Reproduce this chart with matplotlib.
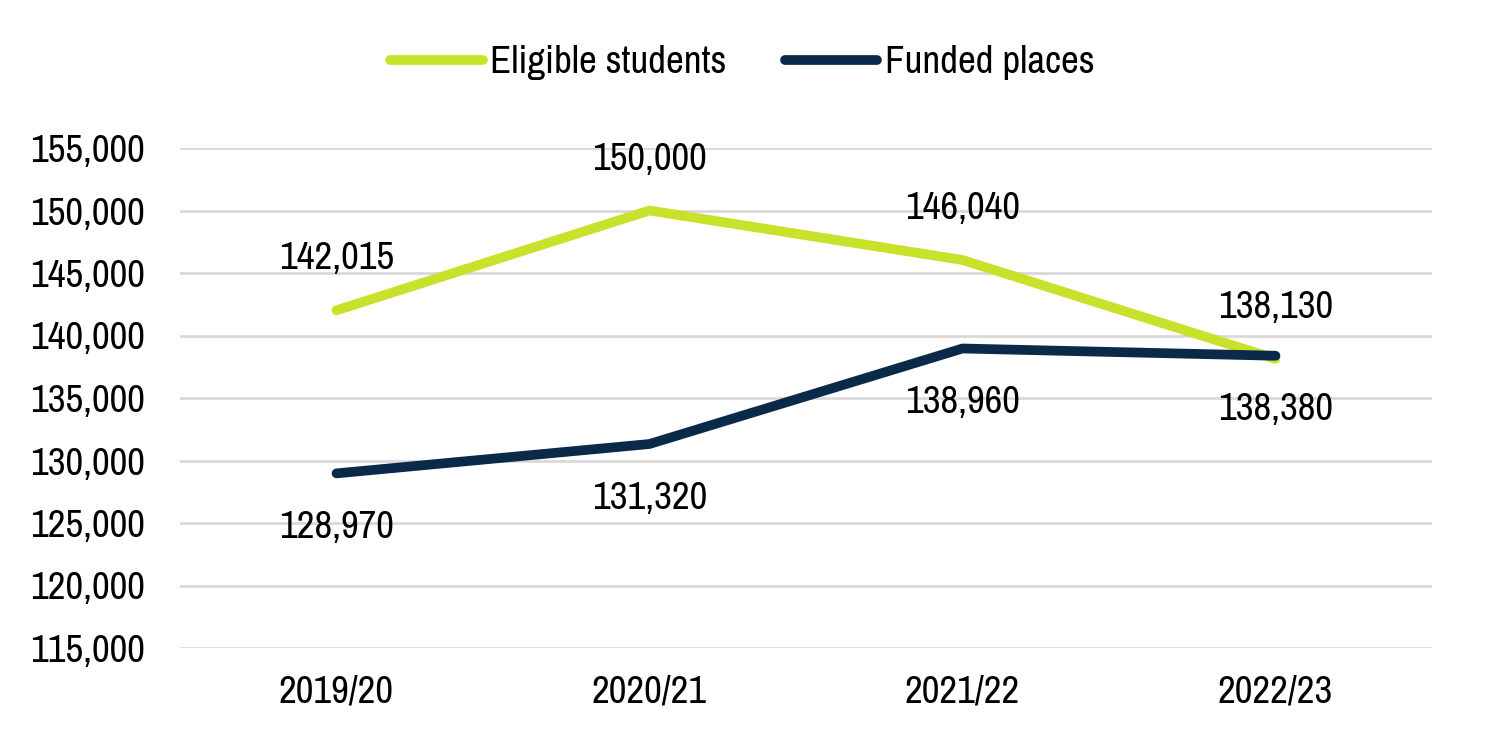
import matplotlib
matplotlib.use("Agg")
import matplotlib.pyplot as plt
from matplotlib.ticker import FuncFormatter

years = ["2019/20", "2020/21", "2021/22", "2022/23"]
eligible = [142015, 150000, 146040, 138130]
funded = [128970, 131320, 138960, 138380]
yticks = [115000, 120000, 125000, 130000, 135000, 140000, 145000, 150000, 155000]

plt.rcParams['font.family'] = ['Archivo Narrow', 'Liberation Sans Narrow', 'DejaVu Sans']
GREEN = "#C8E12B"
NAVY = "#0B2A4A"
FS = 28

fig = plt.figure(figsize=(14.85, 7.47), dpi=100)
ax = fig.add_axes([180/1485, 99/747, 1252/1485, 500/747])
x = list(range(len(years)))
ax.plot(x, eligible, color=GREEN, lw=7, solid_capstyle='round', label="Eligible students", zorder=3)
ax.plot(x, funded, color=NAVY, lw=7, solid_capstyle='round', label="Funded places", zorder=4)

for xi, v in zip(x, eligible):
    ax.annotate(f"{v:,}", (xi, v), xytext=(0, 37), textcoords="offset points",
                ha="center", va="center", fontsize=FS, color="black")
for xi, v in zip(x, funded):
    ax.annotate(f"{v:,}", (xi, v), xytext=(0, -39), textcoords="offset points",
                ha="center", va="center", fontsize=FS, color="black")

ax.set_xlim(-0.5, 3.5)
ax.set_ylim(115000, 155000)
ax.set_yticks(yticks)
ax.yaxis.set_major_formatter(FuncFormatter(lambda v, p: f"{int(v):,}"))
ax.set_xticks(x)
ax.set_xticklabels(years)
ax.tick_params(axis='both', length=0, labelsize=FS)
ax.tick_params(axis='y', pad=25)
ax.tick_params(axis='x', pad=19)
ax.grid(axis='y', color="#D9D9D9", lw=2)
ax.set_axisbelow(True)
for s in ax.spines.values():
    s.set_visible(False)

fig.legend(loc="center", bbox_to_anchor=(0.5, 1 - 63/747), ncol=2, frameon=False,
           fontsize=FS, handlelength=2.37, handletextpad=0.2, columnspacing=1.5)

fig.savefig("out.png", dpi=100, facecolor="white")
